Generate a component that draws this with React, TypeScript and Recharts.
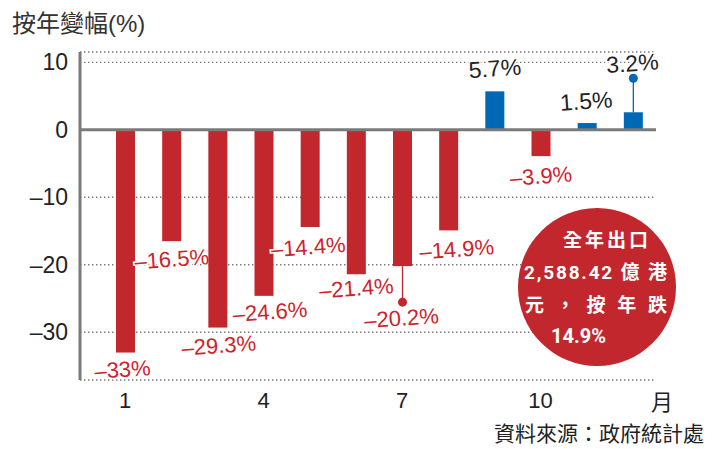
import React from 'react';
import { BarChart, Bar, XAxis, YAxis, CartesianGrid, ReferenceLine } from 'recharts';

const months = ['1', '2', '3', '4', '5', '6', '7', '8', '9', '10', '11', '12'];
// bar heights as drawn in the picture
const values = [-33, -16.5, -29.3, -24.6, -14.4, -21.4, -20.2, -14.9, 5.7, -3.9, 1.0, 2.6];
// label texts printed on the picture
const labels = ['–33%', '–16.5%', '–29.3%', '–24.6%', '–14.4%', '–21.4%', '–20.2%', '–14.9%', '5.7%', '–3.9%', '1.5%', '3.2%'];
const yTicks = [-30, -20, -10, 0, 10];

// styling: label centre offsets from bar end, and callout leader lengths
const labelOffsets: [number, number][] = [
  [-3, 17], [0, 18], [1, 18], [6, 16], [-2, 20], [0, 14],
  [-1, 52], [8, 19], [0, -23], [0, 20], [-1, -22], [-1, -49],
];
const leaderLengths = [0, 0, 0, 0, 0, 0, 36, 0, 0, 0, 0, -34];

const RED = '#C1272D';
const BLUE = '#0068B5';
const LABEL_RED = '#D0222C';
const FONT = "'Liberation Sans', Arial, 'Noto Sans CJK TC', sans-serif";
const CJK = "'Noto Sans CJK TC', 'Liberation Sans', sans-serif";

const data = months.map((m, i) => ({ month: m, value: values[i], label: labels[i], i }));

const BarShape = (props: any) => {
  const { x, y, width, height, payload } = props;
  const i = payload.i;
  const v = payload.value;
  const top = Math.min(y, y + height);
  const h = Math.abs(height);
  const end = v < 0 ? top + h : top;
  const cx = x + width / 2;
  const [dx, dy] = labelOffsets[i];
  const lx = cx + dx;
  const ly = end + dy;
  const fill = v < 0 ? RED : BLUE;
  const lead = leaderLengths[i];
  return (
    <g>
      <rect x={x} y={top} width={width} height={h} fill={fill} />
      {lead !== 0 && (
        <g>
          <line x1={cx} y1={end} x2={cx} y2={end + lead} stroke={fill} strokeWidth={1.3} />
          <circle cx={cx} cy={end + lead} r={4.5} fill={fill} />
        </g>
      )}
      <text
        x={lx}
        y={ly}
        textAnchor="middle"
        dominantBaseline="central"
        fontSize={v < 0 ? 22 : 23}
        fontFamily={FONT}
        fill={v < 0 ? LABEL_RED : '#222'}
        stroke="#fff"
        strokeWidth={3}
        paintOrder="stroke"
        transform={`rotate(-4, ${lx}, ${ly})`}
      >
        {payload.label}
      </text>
    </g>
  );
};

const fmtY = (v: number) => (v < 0 ? '–' + Math.abs(v) : String(v));

export default function App() {
  return (
    <div style={{ position: 'absolute', left: 0, top: 0, width: 723, height: 449, background: '#fff' }}>
      <BarChart
        width={723}
        height={449}
        data={data}
        margin={{ top: 52, right: 67, left: 0, bottom: 0 }}
      >
        <CartesianGrid
          vertical={false}
          stroke="#777"
          strokeWidth={1.4}
          strokeDasharray="1.4 2.6"
        />
        <XAxis
          dataKey="month"
          interval={2}
          tickLine={false}
          axisLine={false}
          height={69}
          tickMargin={6}
          padding={{ left: 22, right: 0 }}
          tick={{ fontSize: 22, fill: '#222', fontFamily: FONT }}
        />
        <YAxis
          width={80}
          domain={[-37.07, 11.53]}
          ticks={yTicks}
          allowDataOverflow
          tickLine={false}
          tickMargin={6}
          tickFormatter={fmtY}
          axisLine={{ stroke: '#7a7a7a', strokeWidth: 3 }}
          tick={{ fontSize: 23, fill: '#222', fontFamily: FONT }}
        />
        <Bar dataKey="value" barSize={19} shape={BarShape} isAnimationActive={false} />
        <ReferenceLine y={0} stroke="#7a7a7a" strokeWidth={3} />
      </BarChart>
      <svg
        width={723}
        height={449}
        style={{ position: 'absolute', left: 0, top: 0, pointerEvents: 'none' }}
      >
        <text x={12} y={23} dominantBaseline="central" fontSize={24} fontFamily={FONT} fill="#333">
          按年變幅(%)
        </text>
        <text x={662} y={400} textAnchor="middle" dominantBaseline="central" fontSize={22} fontFamily={CJK} fill="#222">
          月
        </text>
        <text x={494} y={432} dominantBaseline="central" fontSize={21} fontFamily={CJK} fill="#222">
          資料來源：政府統計處
        </text>
        <circle cx={597} cy={287} r={79} fill={RED} />
        <g fill="#fff" fontWeight="bold" fontSize={19} fontFamily={"Roboto, 'Noto Sans CJK TC', sans-serif"} dominantBaseline="central">
          <text x={563} y={240} textLength={85} lengthAdjust="spacing">全年出口</text>
          <text x={524} y={272} textLength={143} lengthAdjust="spacing">2,588.42 億 港</text>
          <text x={525} y={305} textLength={142} lengthAdjust="spacing">元 ， 按 年 跌</text>
          <text x={551} y={336} fontSize={20}>14.9%</text>
        </g>
      </svg>
    </div>
  );
}
